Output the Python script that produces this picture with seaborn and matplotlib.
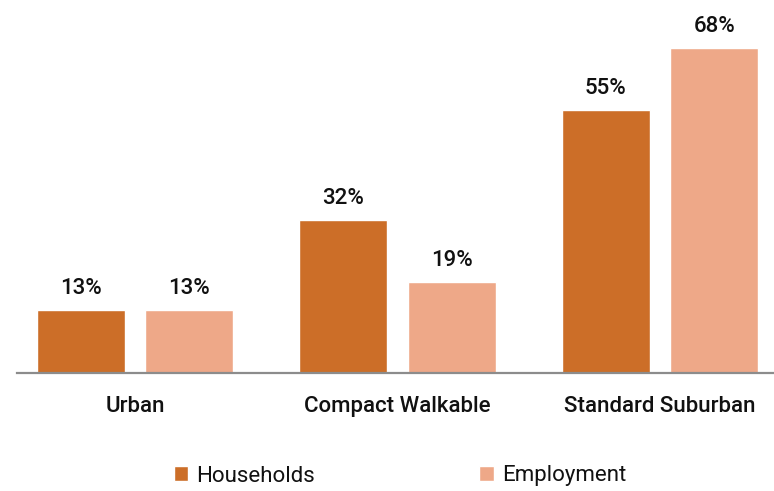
import matplotlib
matplotlib.use("Agg")
import matplotlib.pyplot as plt
import seaborn as sns
import pandas as pd

categories = ["Urban", "Compact Walkable", "Standard Suburban"]
series_names = ["Households", "Employment"]
households = [13, 32, 55]
employment = [13, 19, 68]
colors = ["#CC6E28", "#EEA888"]

df = pd.DataFrame({
    "category": categories * 2,
    "series": [series_names[0]] * 3 + [series_names[1]] * 3,
    "value": households + employment,
})

sns.set_theme(style="white")
plt.rcParams["font.family"] = ["Roboto", "DejaVu Sans"]

fig = plt.figure(figsize=(7.74, 4.91), dpi=100)
ax = fig.add_axes([17 / 774, 118.5 / 491, 1 - 17 / 774, 372.5 / 491])

sns.barplot(data=df, x="category", y="value", hue="series", order=categories,
            hue_order=series_names, palette=colors, width=0.827, gap=0.19,
            saturation=1, ax=ax, legend=True)

# Percentage labels above each bar
for container in ax.containers:
    ax.bar_label(container, labels=[f"{v:.0f}%" for v in container.datavalues],
                 padding=8, fontsize=16, fontweight="medium", color="#111111")

ax.set_xlim(-0.45, 2.434)
ax.set_ylim(0, 78.1)
ax.set_xlabel("")
ax.set_ylabel("")
ax.set_yticks([])
ax.tick_params(axis="x", length=0, pad=17, labelsize=16, labelcolor="#111111")
for lbl in ax.get_xticklabels():
    lbl.set_fontweight("medium")
for side in ["top", "right", "left"]:
    ax.spines[side].set_visible(False)
ax.spines["bottom"].set_color("#8c8c8c")
ax.spines["bottom"].set_linewidth(1.6)

# Two-column legend centred below the chart
handles, labels = ax.get_legend_handles_labels()
ax.get_legend().remove()
fig.legend(handles, labels, loc="center", bbox_to_anchor=(400 / 774, 1 - 476 / 491),
           ncol=2, frameon=False, fontsize=16, handlelength=0.65, handleheight=0.65,
           handletextpad=0.35, columnspacing=7.4, labelcolor="#111111")

fig.savefig("out.png", dpi=100)
